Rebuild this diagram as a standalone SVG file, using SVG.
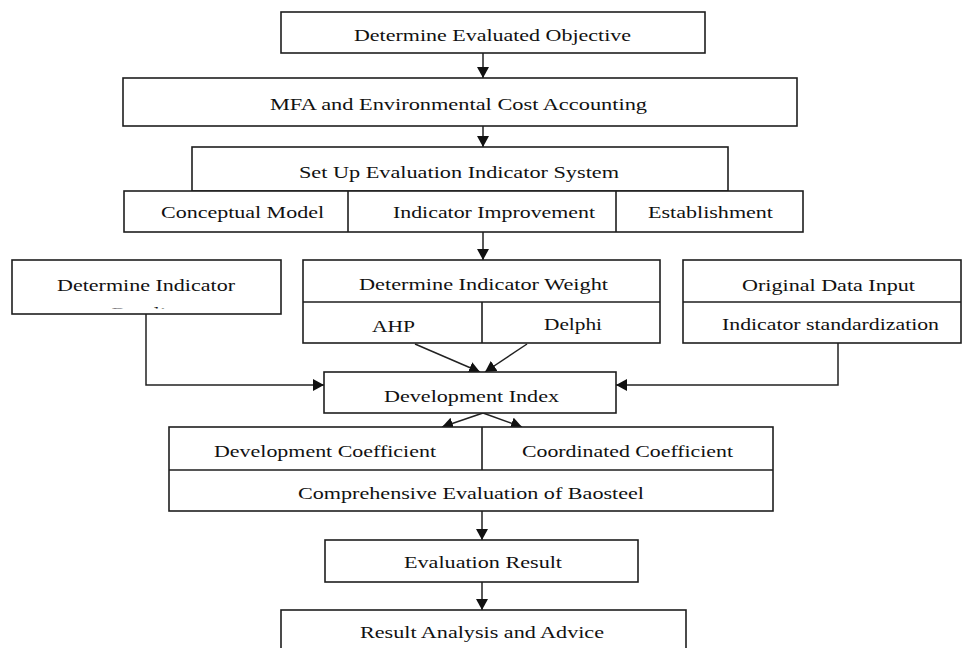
<svg xmlns="http://www.w3.org/2000/svg" width="963" height="648" viewBox="0 0 963 648">
<style>
.box{fill:#fff;stroke:#1e1e1e;stroke-width:1.6}
.ln{fill:none;stroke:#1e1e1e;stroke-width:1.6}
.con{fill:none;stroke:#222;stroke-width:1.5;marker-end:url(#ah)}
text{font-family:"Liberation Serif","Times New Roman",serif;font-size:16px;fill:#111;text-anchor:middle}
</style>
<defs>
<marker id="ah" viewBox="0 0 11 12" markerWidth="11" markerHeight="12" refX="11" refY="6" orient="auto" markerUnits="userSpaceOnUse">
<path d="M0,0 L11,6 L0,12 z" fill="#111"/>
</marker>
<clipPath id="clipL"><rect x="12" y="260" width="269" height="48.5"/></clipPath>
</defs>
<rect width="963" height="648" fill="#fff"/>

<g id="connectors">
<line class="con" x1="483" y1="53" x2="483" y2="78"/>
<line class="con" x1="483" y1="126" x2="483" y2="147"/>
<line class="con" x1="483" y1="232" x2="483" y2="260"/>
<polyline class="con" points="146,314 146,385 324,385"/>
<polyline class="con" points="838,343 838,385 616,385"/>
<line class="con" x1="415" y1="344" x2="480" y2="372"/>
<line class="con" x1="527" y1="344" x2="485" y2="372"/>
<line class="con" x1="483" y1="413" x2="442" y2="427"/>
<line class="con" x1="483" y1="413" x2="522" y2="427"/>
<line class="con" x1="482" y1="511" x2="482" y2="540"/>
<line class="con" x1="482" y1="582" x2="482" y2="610"/>
</g>

<g id="n-objective">
<rect class="box" x="281" y="12" width="424" height="41"/>
<text x="492.5" y="41" textLength="277" lengthAdjust="spacingAndGlyphs">Determine Evaluated Objective</text>
</g>

<g id="n-mfa">
<rect class="box" x="123" y="78" width="674" height="48"/>
<text x="458.5" y="110" textLength="377" lengthAdjust="spacingAndGlyphs">MFA and Environmental Cost Accounting</text>
</g>

<g id="n-system">
<rect class="box" x="192" y="147" width="536" height="44"/>
<text x="459" y="178" textLength="320" lengthAdjust="spacingAndGlyphs">Set Up Evaluation Indicator System</text>
</g>

<g id="n-system-row">
<rect class="box" x="124" y="191" width="679" height="41"/>
<line class="ln" x1="348" y1="191" x2="348" y2="232"/>
<line class="ln" x1="616" y1="191" x2="616" y2="232"/>
<text x="242.5" y="218" textLength="163" lengthAdjust="spacingAndGlyphs">Conceptual Model</text>
<text x="494" y="218" textLength="202" lengthAdjust="spacingAndGlyphs">Indicator Improvement</text>
<text x="710.5" y="218" textLength="125" lengthAdjust="spacingAndGlyphs">Establishment</text>
</g>

<g id="n-baseline">
<rect class="box" x="12" y="260" width="269" height="54"/>
<text x="146" y="291" textLength="178" lengthAdjust="spacingAndGlyphs">Determine Indicator</text>
<text x="149" y="319" textLength="75" lengthAdjust="spacingAndGlyphs" clip-path="url(#clipL)">Baseline</text>
</g>

<g id="n-weight">
<rect class="box" x="303" y="260" width="357" height="83"/>
<line class="ln" x1="303" y1="302" x2="660" y2="302"/>
<line class="ln" x1="482" y1="302" x2="482" y2="343"/>
<text x="483.5" y="290" textLength="249" lengthAdjust="spacingAndGlyphs">Determine Indicator Weight</text>
<text x="393.5" y="332" textLength="43" lengthAdjust="spacingAndGlyphs">AHP</text>
<text x="573" y="330" textLength="58" lengthAdjust="spacingAndGlyphs">Delphi</text>
</g>

<g id="n-data">
<rect class="box" x="683" y="260" width="278" height="83"/>
<line class="ln" x1="683" y1="302" x2="961" y2="302"/>
<text x="828.5" y="291" textLength="173" lengthAdjust="spacingAndGlyphs">Original Data Input</text>
<text x="830.5" y="330" textLength="217" lengthAdjust="spacingAndGlyphs">Indicator standardization</text>
</g>

<g id="n-devindex">
<rect class="box" x="324" y="372" width="292" height="41"/>
<text x="471.5" y="402" textLength="175" lengthAdjust="spacingAndGlyphs">Development Index</text>
</g>

<g id="n-coefficients">
<rect class="box" x="169" y="427" width="604" height="84"/>
<line class="ln" x1="169" y1="470" x2="773" y2="470"/>
<line class="ln" x1="482" y1="427" x2="482" y2="470"/>
<text x="325" y="457" textLength="222" lengthAdjust="spacingAndGlyphs">Development Coefficient</text>
<text x="627.5" y="457" textLength="211" lengthAdjust="spacingAndGlyphs">Coordinated Coefficient</text>
<text x="471" y="499" textLength="346" lengthAdjust="spacingAndGlyphs">Comprehensive Evaluation  of Baosteel</text>
</g>

<g id="n-result">
<rect class="box" x="325" y="540" width="313" height="42"/>
<text x="483" y="568" textLength="158" lengthAdjust="spacingAndGlyphs">Evaluation Result</text>
</g>

<g id="n-advice">
<rect class="box" x="281" y="610" width="405" height="60"/>
<text x="482" y="638" textLength="244" lengthAdjust="spacingAndGlyphs">Result Analysis and Advice</text>
</g>
</svg>
